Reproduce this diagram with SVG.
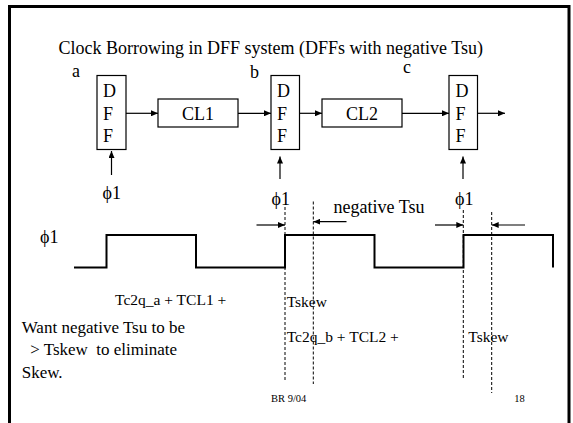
<svg xmlns="http://www.w3.org/2000/svg" width="573" height="423" viewBox="0 0 573 423">
<defs>
<marker id="ah" markerWidth="8" markerHeight="6" refX="7" refY="3" orient="auto" markerUnits="userSpaceOnUse">
<path d="M0,0 L7,3 L0,6 Z" fill="#000"/>
</marker>
</defs>
<style>
text{font-family:"Liberation Serif","Times New Roman",serif;fill:#000}
.t18{font-size:18px}
.t16{font-size:15.5px}
.t17{font-size:17px}
.sm{font-size:10.5px}
.box{fill:#fff;stroke:#000;stroke-width:1.2}
.wire{stroke:#000;stroke-width:1.2;fill:none;marker-end:url(#ah)}
.dash{stroke:#000;stroke-width:1;stroke-dasharray:3,2;fill:none}
.wave{stroke:#000;stroke-width:2;fill:none}
</style>
<rect width="573" height="423" fill="#fff"/>
<path d="M9.5,440 V6.5 H569 V440" fill="none" stroke="#000" stroke-width="3"/>

<text class="t18" x="58.5" y="54">Clock Borrowing in DFF system (DFFs with negative Tsu)</text>
<text class="t18" x="72" y="77">a</text>
<text class="t18" x="250" y="78">b</text>
<text class="t18" x="403" y="73">c</text>

<g id="dffa">
<rect class="box" x="97" y="75.5" width="29" height="74"/>
<text class="t18" x="103" y="97">D</text><text class="t18" x="103" y="120">F</text><text class="t18" x="103" y="142">F</text>
</g>
<g id="cl1">
<rect class="box" x="158" y="99" width="80" height="28"/>
<text class="t18" x="198" y="120" text-anchor="middle">CL1</text>
</g>
<g id="dffb">
<rect class="box" x="271" y="75.5" width="28.5" height="74"/>
<text class="t18" x="277" y="97">D</text><text class="t18" x="277" y="120">F</text><text class="t18" x="277" y="142">F</text>
</g>
<g id="cl2">
<rect class="box" x="322" y="99" width="80" height="28"/>
<text class="t18" x="362" y="120" text-anchor="middle">CL2</text>
</g>
<g id="dffc">
<rect class="box" x="449" y="75.5" width="28.5" height="74"/>
<text class="t18" x="455.5" y="97">D</text><text class="t18" x="455.5" y="120">F</text><text class="t18" x="455.5" y="142">F</text>
</g>

<g id="connectors">
<line class="wire" x1="126" y1="113.3" x2="158" y2="113.3"/>
<line class="wire" x1="238" y1="113.3" x2="271" y2="113.3"/>
<line class="wire" x1="299.5" y1="113.3" x2="322" y2="113.3"/>
<line class="wire" x1="402" y1="113.3" x2="449" y2="113.3"/>
<line class="wire" x1="477.5" y1="113.3" x2="505" y2="113.3"/>
<line class="wire" x1="111.5" y1="175" x2="111.5" y2="151"/>
<line class="wire" x1="280" y1="179" x2="280" y2="156.5"/>
<line class="wire" x1="463" y1="179" x2="463" y2="156.5"/>
</g>

<text class="t18" x="102.5" y="199">ϕ1</text>
<text class="t18" x="271.5" y="205">ϕ1</text>
<text class="t18" x="455" y="205">ϕ1</text>
<text class="t18" x="40" y="243">ϕ1</text>
<text class="t18" x="333.5" y="213">negative Tsu</text>

<path class="wave" d="M74,267.5 H106.5 V235 H196 V267.5 H285 V235 H374.5 V267.5 H463.5 V235 H553 V267.5"/>

<g id="timing">
<line class="dash" x1="285" y1="207" x2="285" y2="380"/>
<line class="dash" x1="313.3" y1="201.5" x2="313.3" y2="384"/>
<line class="dash" x1="463.3" y1="210" x2="463.3" y2="380"/>
<line class="dash" x1="491.7" y1="212" x2="491.7" y2="393"/>
<line class="wire" x1="256.5" y1="225" x2="285" y2="225"/>
<line class="wire" x1="346.5" y1="221.7" x2="313.3" y2="221.7"/>
<line class="wire" x1="435" y1="225" x2="463.3" y2="225"/>
<line class="wire" x1="525" y1="225" x2="491.7" y2="225"/>
</g>

<text class="t16" x="115" y="305">Tc2q_a + TCL1 +</text>
<text class="t16" x="286.7" y="306.7">Tskew</text>
<text class="t16" x="286.7" y="341.7">Tc2q_b + TCL2 +</text>
<text class="t16" x="468.3" y="341.7">Tskew</text>
<text class="t17" x="21.7" y="332.7">Want negative Tsu to be</text>
<text class="t17" x="21.7" y="355" xml:space="preserve">  &gt; Tskew  to eliminate</text>
<text class="t17" x="21.7" y="378.3">Skew.</text>
<text class="sm" x="271" y="401.7">BR 9/04</text>
<text class="sm" x="514.3" y="401.7">18</text>
</svg>
